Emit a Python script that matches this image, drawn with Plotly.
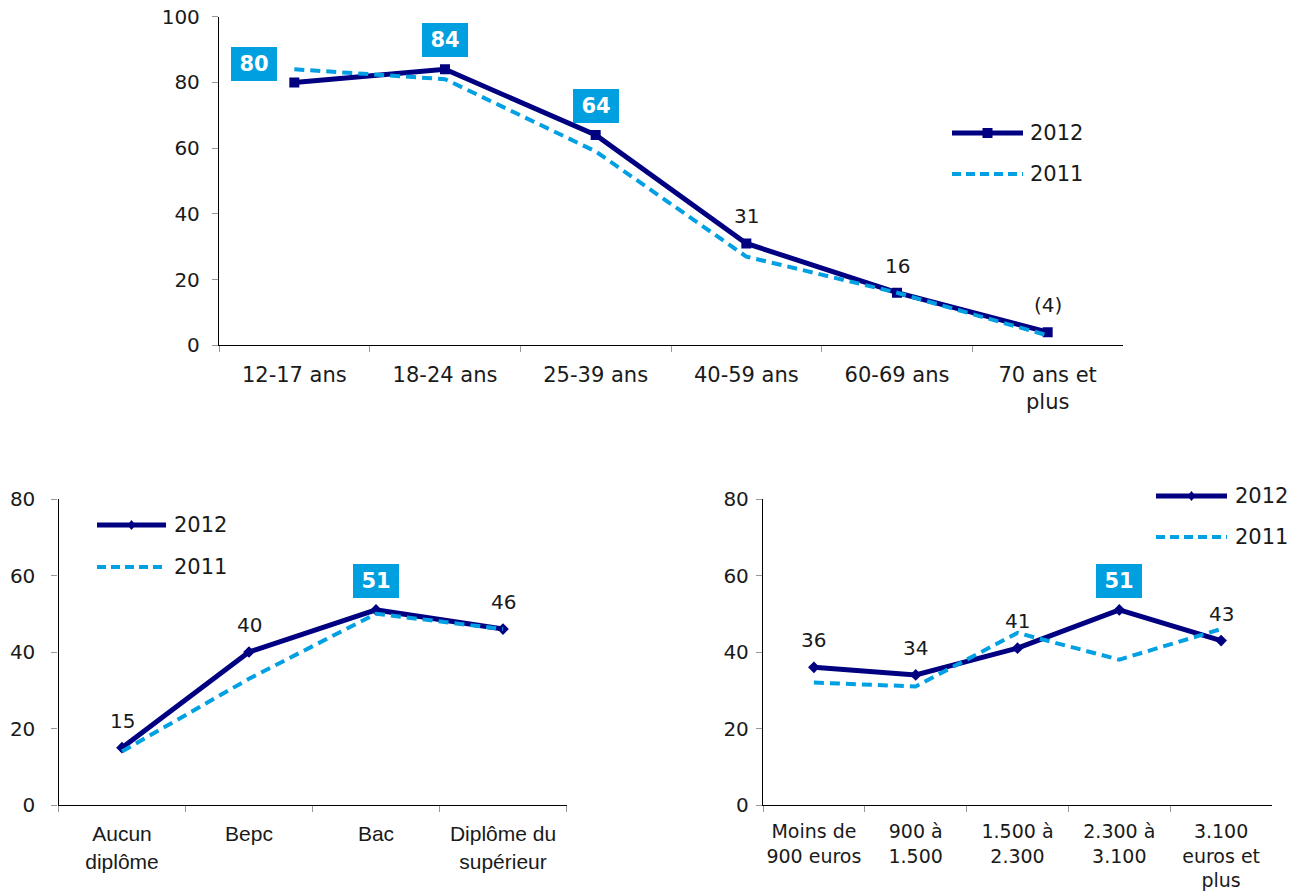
import plotly.graph_objects as go

# ---------------- data ----------------
age_labels = ["12-17 ans", "18-24 ans", "25-39 ans", "40-59 ans", "60-69 ans", "70 ans et<br>plus"]
age_2012 = [80, 84, 64, 31, 16, 4]
age_2011 = [84, 81, 59, 27, 16, 3]
age_text = ["80", "84", "64", "31", "16", "(4)"]
age_boxed = [True, True, True, False, False, False]

dipl_labels = ["Aucun<br>diplôme", "Bepc", "Bac", "Diplôme du<br>supérieur"]
dipl_2012 = [15, 40, 51, 46]
dipl_2011 = [14, 33, 50, 46]
dipl_text = ["15", "40", "51", "46"]
dipl_boxed = [False, False, True, False]

rev_labels = ["Moins de<br>900 euros", "900 à<br>1.500", "1.500 à<br>2.300", "2.300 à<br>3.100", "3.100<br>euros et<br>plus"]
rev_2012 = [36, 34, 41, 51, 43]
rev_2011 = [32, 31, 45, 38, 46]
rev_text = ["36", "34", "41", "51", "43"]
rev_boxed = [False, False, False, True, False]

series_names = ["2012", "2011"]

# ---------------- style ----------------
NAVY = "#000080"
LBLUE = "#00A0E2"
BOX = "#009FDF"
TXT = "#1a1a1a"
FONT = "DejaVu Sans"
W, H = 1302, 892

fig = go.Figure()

panels = [
    dict(x=age_labels, y12=age_2012, y11=age_2011, text=age_text, boxed=age_boxed,
         xa="x", ya="y", sym="square", msize=10),
    dict(x=dipl_labels, y12=dipl_2012, y11=dipl_2011, text=dipl_text, boxed=dipl_boxed,
         xa="x2", ya="y2", sym="diamond", msize=9),
    dict(x=rev_labels, y12=rev_2012, y11=rev_2011, text=rev_text, boxed=rev_boxed,
         xa="x3", ya="y3", sym="diamond", msize=9),
]

annotations = []
for pi, p in enumerate(panels):
    fig.add_trace(go.Scatter(
        x=p["x"], y=p["y12"], name=series_names[0], mode="lines+markers",
        line=dict(color=NAVY, width=5), marker=dict(symbol=p["sym"], size=p["msize"], color=NAVY),
        xaxis=p["xa"], yaxis=p["ya"], showlegend=False))
    fig.add_trace(go.Scatter(
        x=p["x"], y=p["y11"], name=series_names[1], mode="lines",
        line=dict(color=LBLUE, width=4, dash="10px,6px"),
        xaxis=p["xa"], yaxis=p["ya"], showlegend=False))
    for i, (cx, cy, t, b) in enumerate(zip(p["x"], p["y12"], p["text"], p["boxed"])):
        if b:
            xs = -40 if (pi == 0 and i == 0) else 0
            ys = 18 if (pi == 0 and i == 0) else 29
            annotations.append(dict(
                x=cx, y=cy, xref=p["xa"], yref=p["ya"], text="<b>%s</b>" % t, showarrow=False,
                xshift=xs, yshift=ys, bgcolor=BOX, borderpad=3, borderwidth=0,
                width=40, height=28, font=dict(family=FONT, size=21, color="white")))
        else:
            annotations.append(dict(
                x=cx, y=cy, xref=p["xa"], yref=p["ya"], text=t, showarrow=False,
                yshift=27, font=dict(family=FONT, size=20, color=TXT)))

# ---------------- legends (manual, to match long line samples) ----------------
def px_x(v):
    return v / W

def px_y(v):
    return 1 - v / H

shapes = []
legends = [
    dict(x0=952, x1=1023, y1=133, y2=174, tx=1028, sym="square"),
    dict(x0=97, x1=166, y1=525, y2=567, tx=172, sym="diamond"),
    dict(x0=1156, x1=1227, y1=496, y2=537, tx=1233, sym="diamond"),
]
for lg in legends:
    shapes.append(dict(type="line", xref="paper", yref="paper",
                       x0=px_x(lg["x0"]), x1=px_x(lg["x1"]), y0=px_y(lg["y1"]), y1=px_y(lg["y1"]),
                       line=dict(color=NAVY, width=5)))
    shapes.append(dict(type="line", xref="paper", yref="paper",
                       x0=px_x(lg["x0"]), x1=px_x(lg["x1"]), y0=px_y(lg["y2"]), y1=px_y(lg["y2"]),
                       line=dict(color=LBLUE, width=4, dash="9px,5px")))
    cx = (lg["x0"] + lg["x1"]) / 2
    cy = lg["y1"]
    if lg["sym"] == "square":
        shapes.append(dict(type="rect", xref="paper", yref="paper",
                           x0=px_x(cx - 5), x1=px_x(cx + 5), y0=px_y(cy + 5), y1=px_y(cy - 5),
                           fillcolor=NAVY, line=dict(width=0)))
    else:
        path = "M %f,%f L %f,%f L %f,%f L %f,%f Z" % (
            px_x(cx), px_y(cy - 5), px_x(cx + 4), px_y(cy), px_x(cx), px_y(cy + 5), px_x(cx - 4), px_y(cy))
        shapes.append(dict(type="path", xref="paper", yref="paper", path=path,
                           fillcolor=NAVY, line=dict(width=0)))
    for name, yy in zip(series_names, [lg["y1"], lg["y2"]]):
        annotations.append(dict(x=px_x(lg["tx"]), y=px_y(yy), xref="paper", yref="paper",
                                xanchor="left", yanchor="middle", text=name, showarrow=False,
                                font=dict(family=FONT, size=21, color=TXT)))

# ---------------- axes ----------------
def xax(domain, n, fam, size, standoff=10):
    return dict(domain=domain, type="category", range=[-0.5, n - 0.5], showgrid=False,
                showline=True, linecolor="black", linewidth=1.3, ticks="outside",
                tickson="boundaries", ticklen=6, tickcolor="#999", tickwidth=1,
                tickfont=dict(family=fam, size=size, color=TXT), automargin=False,
                ticklabelstandoff=standoff, tickangle=0, fixedrange=True, zeroline=False,
                ticklabeloverflow="allow")

def yax(domain, top, anchor, standoff):
    return dict(domain=domain, range=[0, top], dtick=20, showgrid=False, showline=True,
                linecolor="black", linewidth=1.3, ticks="outside", ticklen=6, tickcolor="#999",
                tickfont=dict(family=FONT, size=20, color=TXT), automargin=False,
                anchor=anchor, zeroline=False, ticklabelstandoff=standoff,
                ticklabeloverflow="allow", fixedrange=True)

ytop = [px_y(345.3), px_y(16.7)]
ybot = [px_y(805), px_y(499)]

fig.update_layout(
    width=W, height=H, template="none",
    paper_bgcolor="white", plot_bgcolor="white",
    margin=dict(l=0, r=0, t=0, b=0),
    xaxis=dict(**xax([px_x(219), px_x(1123)], len(age_labels), FONT, 21), anchor="y"),
    yaxis=yax(ytop, 100, "x", 8),
    xaxis2=dict(**xax([px_x(58.5), px_x(566.5)], len(dipl_labels), "Liberation Sans", 21), anchor="y2"),
    yaxis2=yax(ybot, 80, "x2", 12),
    xaxis3=dict(**xax([px_x(763), px_x(1272)], len(rev_labels), FONT, 19, standoff=9), anchor="y3"),
    yaxis3=yax(ybot, 80, "x3", 3),
    annotations=annotations,
    shapes=shapes,
    showlegend=False,
)

fig.write_html(
    "out.html",
    config={"displayModeBar": False},
    post_script="document.body.style.margin='0';document.body.style.overflow='hidden';"
                "document.documentElement.style.overflow='hidden';",
)
